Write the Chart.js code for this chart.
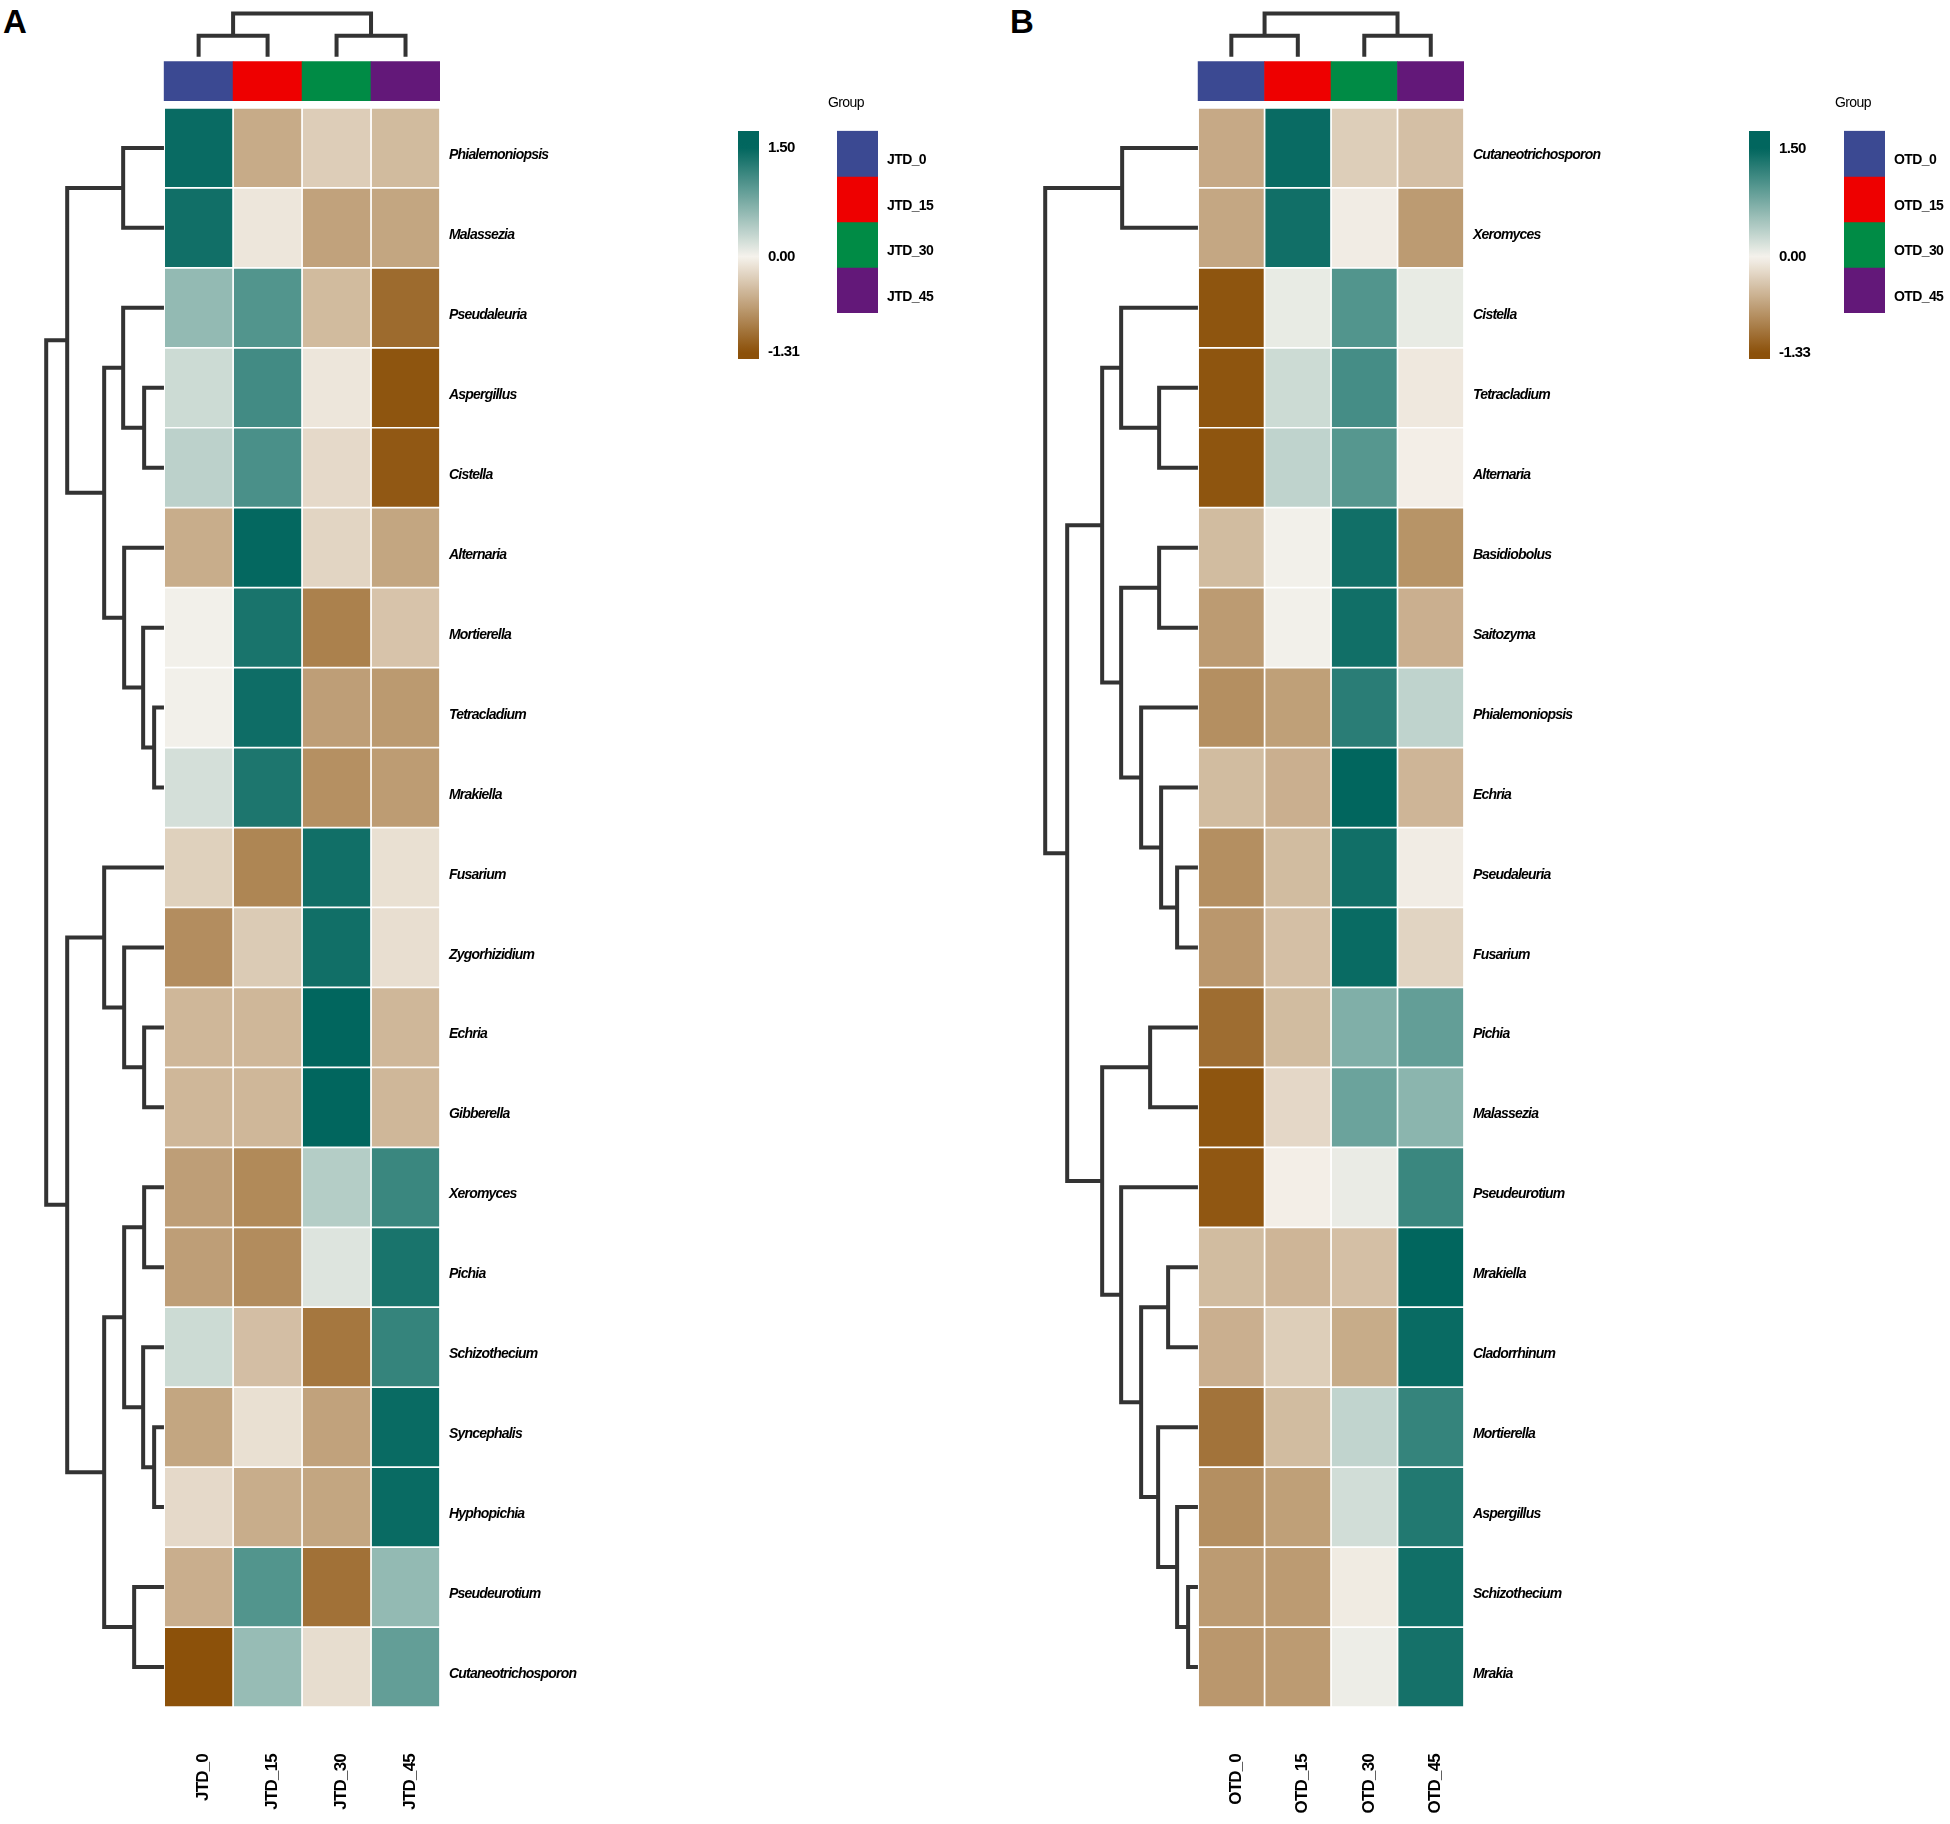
<!DOCTYPE html>
<html>
<head>
<meta charset="utf-8">
<title>Fungal genera heatmaps</title>
<script src="https://cdn.jsdelivr.net/npm/chart.js@4.4.1/dist/chart.umd.min.js"></script>
<style>
  body { margin: 0; background: #fff; }
  #page { position: relative; width: 1950px; height: 1824px; overflow: hidden; background: #fff; }
  #page canvas { position: absolute; }
  .tag { position: absolute; font: bold 33px 'Liberation Sans', Arial, sans-serif; line-height: 1; color: #000; }
</style>
</head>
<body>
<div id="page">
  <div class="tag" style="left:3px;top:5px">A</div>
  <div class="tag" style="left:1010px;top:5px">B</div>
  <canvas id="heatA" width="640" height="1824" style="left:0;top:0"></canvas>
  <canvas id="scaleA" width="110" height="260" style="left:738px;top:131px"></canvas>
  <canvas id="groupA" width="129" height="223" style="left:828px;top:90px"></canvas>
  <canvas id="heatB" width="700" height="1824" style="left:1000px;top:0"></canvas>
  <canvas id="scaleB" width="110" height="260" style="left:1749px;top:131px"></canvas>
  <canvas id="groupB" width="115" height="223" style="left:1835px;top:90px"></canvas>
</div>
<script>
// ---------------- DATA ----------------

const groupsA = ['JTD_0', 'JTD_15', 'JTD_30', 'JTD_45'];
const groupsB = ['OTD_0', 'OTD_15', 'OTD_30', 'OTD_45'];
const groupColors = ['#3B4992', '#EE0000', '#008B45', '#631879'];

const generaA = ['Phialemoniopsis', 'Malassezia', 'Pseudaleuria', 'Aspergillus', 'Cistella',
  'Alternaria', 'Mortierella', 'Tetracladium', 'Mrakiella', 'Fusarium', 'Zygorhizidium',
  'Echria', 'Gibberella', 'Xeromyces', 'Pichia', 'Schizothecium', 'Syncephalis',
  'Hyphopichia', 'Pseudeurotium', 'Cutaneotrichosporon'];

// row z-scores, columns JTD_0 .. JTD_45
const zA = [
  [1.45, -0.58, -0.30, -0.45],
  [1.40, -0.10, -0.65, -0.62],
  [0.60, 1.00, -0.45, -1.10],
  [0.25, 1.10, -0.10, -1.28],
  [0.35, 1.05, -0.20, -1.25],
  [-0.56, 1.48, -0.24, -0.62],
  [0.02, 1.35, -0.92, -0.38],
  [0.02, 1.42, -0.68, -0.72],
  [0.20, 1.33, -0.80, -0.70],
  [-0.27, -0.88, 1.40, -0.15],
  [-0.82, -0.32, 1.40, -0.16],
  [-0.48, -0.48, 1.50, -0.48],
  [-0.48, -0.48, 1.50, -0.48],
  [-0.68, -0.85, 0.40, 1.15],
  [-0.68, -0.83, 0.15, 1.35],
  [0.25, -0.42, -1.00, 1.18],
  [-0.62, -0.15, -0.65, 1.45],
  [-0.20, -0.56, -0.62, 1.45],
  [-0.55, 1.00, -1.05, 0.60],
  [-1.31, 0.58, -0.17, 0.90]
];

const generaB = ['Cutaneotrichosporon', 'Xeromyces', 'Cistella', 'Tetracladium', 'Alternaria',
  'Basidiobolus', 'Saitozyma', 'Phialemoniopsis', 'Echria', 'Pseudaleuria', 'Fusarium',
  'Pichia', 'Malassezia', 'Pseudeurotium', 'Mrakiella', 'Cladorrhinum', 'Mortierella',
  'Aspergillus', 'Schizothecium', 'Mrakia'];

// row z-scores, columns OTD_0 .. OTD_45
const zB = [
  [-0.60, 1.45, -0.30, -0.42],
  [-0.62, 1.40, -0.05, -0.72],
  [-1.30, 0.08, 1.00, 0.08],
  [-1.30, 0.25, 1.08, -0.08],
  [-1.30, 0.33, 0.98, -0.03],
  [-0.45, 0.02, 1.40, -0.78],
  [-0.72, 0.02, 1.40, -0.55],
  [-0.82, -0.68, 1.25, 0.33],
  [-0.45, -0.55, 1.50, -0.50],
  [-0.82, -0.45, 1.40, -0.05],
  [-0.75, -0.42, 1.45, -0.25],
  [-1.10, -0.45, 0.72, 0.90],
  [-1.30, -0.22, 0.85, 0.65],
  [-1.28, -0.03, 0.07, 1.15],
  [-0.45, -0.50, -0.42, 1.50],
  [-0.55, -0.30, -0.58, 1.45],
  [-1.05, -0.45, 0.32, 1.18],
  [-0.82, -0.68, 0.22, 1.30],
  [-0.72, -0.72, -0.06, 1.40],
  [-0.75, -0.72, 0.05, 1.38]
];

// dendrograms: [left, right, height], a number is a leaf (row / column index)
const rowTreeA = [
  [[0, 1, 41], [[2, [3, 4, 20], 41], [5, [6, [7, 8, 10], 21], 40], 60], 97],
  [[9, [10, [11, 12, 20], 40], 60], [[[13, 14, 20], [15, [16, 17, 10], 21], 40], [18, 19, 30], 60], 97],
  118
];
const rowTreeB = [
  [0, 1, 76],
  [
    [[2, [3, 4, 39], 77], [[5, 6, 39], [7, [8, [9, 10, 21], 37], 57], 77], 96],
    [[11, 12, 48], [13, [[14, 15, 30], [16, [17, [18, 19, 10], 21], 40], 57], 77], 96],
    131
  ],
  153
];
const colTreeA = [[0, 1, 21], [2, 3, 21], 43];
const colTreeB = [[0, 1, 21], [2, 3, 21], 43];

const legendTicksA = [1.5, 0, -1.31];
const legendTicksB = [1.5, 0, -1.33];

// ---------------- HELPERS ----------------

const SANS = "'Liberation Sans', Arial, sans-serif";
const TREE_COLOR = '#333333';

const LOW = [140, 81, 10], MID = [245, 242, 236], HIGH = [1, 102, 94];

function mix(a, b, t) {
  const c = a.map((v, i) => Math.round(v + (b[i] - v) * t));
  return `rgb(${c[0]},${c[1]},${c[2]})`;
}

function zColor(v, lo, hi) {
  if (v >= 0) return mix(MID, HIGH, Math.min(v / hi, 1));
  return mix(MID, LOW, Math.min(v / lo, 1));
}

// walks a nested tree and returns elbow polylines split by null points
function treePoints(tree, toPoint) {
  const pts = [];
  function walk(node) {
    if (typeof node === 'number') return {pos: node + 0.5, h: 0};
    const a = walk(node[0]);
    const b = walk(node[1]);
    const h = node[2];
    pts.push(toPoint(a.pos, a.h), toPoint(a.pos, h), toPoint(b.pos, h), toPoint(b.pos, b.h), {x: null, y: null});
    return {pos: (a.pos + b.pos) / 2, h: h};
  }
  walk(tree);
  return pts;
}

function fixWidth(w) {
  return s => { s.width = w; s.paddingTop = s.paddingBottom = s.paddingLeft = s.paddingRight = 0; };
}
function fixHeight(h) {
  return s => { s.height = h; s.paddingTop = s.paddingBottom = s.paddingLeft = s.paddingRight = 0; };
}

// the original labels are set in a narrow face; tighten the tracking instead
const tightText = {
  id: 'tightText',
  defaults: {spacing: '0px'},
  beforeLayout(chart, args, opts) { chart.ctx.letterSpacing = opts.spacing; },
  beforeDraw(chart, args, opts) { chart.ctx.letterSpacing = opts.spacing; }
};
Chart.register(tightText);

function baseOptions(spacing) {
  return {
    responsive: false,
    animation: false,
    events: [],
    layout: {padding: 0, autoPadding: false},
    plugins: {legend: {display: false}, tooltip: {enabled: false}, title: {display: false},
      tightText: {spacing: spacing}}
  };
}

// ---------------- CHARTS ----------------

function heatmap(id, p) {
  const datasets = [];

  p.rows.forEach((name, r) => {
    datasets.push({
      type: 'bar',
      label: name,
      data: p.z[r].map((v, c) => ({x: c + 0.5, y: [r, r + 1]})),
      backgroundColor: p.z[r].map(v => zColor(v, p.lo, p.hi)),
      borderColor: '#ffffff',
      borderWidth: 1.2,
      borderSkipped: false,
      grouped: false,
      barPercentage: 1,
      categoryPercentage: 1
    });
  });

  // group annotation strip
  datasets.push({
    type: 'bar',
    label: 'Group',
    data: p.cols.map((g, c) => ({x: c + 0.5, y: [-0.58, -0.09]})),
    backgroundColor: groupColors,
    borderWidth: 0,
    grouped: false,
    barPercentage: 1,
    categoryPercentage: 1
  });

  const kx = p.rowTreeWidth / p.rowTree[2];
  const ky = 0.54 / p.colTree[2];
  const lineStyle = {type: 'line', borderColor: TREE_COLOR, borderWidth: 4, pointRadius: 0,
    spanGaps: false, borderJoinStyle: 'miter', borderCapStyle: 'butt'};

  datasets.push(Object.assign({label: 'rows', data: treePoints(p.rowTree, (pos, h) => ({x: -h * kx, y: pos}))}, lineStyle));
  datasets.push(Object.assign({label: 'cols', data: treePoints(p.colTree, (pos, h) => ({x: pos, y: -0.64 - h * ky}))}, lineStyle));

  const opts = baseOptions('-0.8px');
  opts.scales = {
    x: {
      type: 'linear', min: p.xMin, max: 4, offset: false,
      grid: {display: false, drawTicks: false}, border: {display: false},
      afterBuildTicks: s => { s.ticks = p.cols.map((g, i) => ({value: i + 0.57})); },
      afterFit: fixHeight(117),
      ticks: {
        autoSkip: false, minRotation: 90, maxRotation: 90, padding: 47,
        color: '#000', font: {family: SANS, size: 17, weight: 'bold'},
        callback: (v, i) => p.cols[i]
      }
    },
    y: {
      type: 'linear', min: -1.35, max: 20, reverse: true, position: 'right',
      grid: {display: false, drawTicks: false}, border: {display: false},
      afterBuildTicks: s => { s.ticks = p.rows.map((g, i) => ({value: i + 0.59})); },
      afterFit: fixWidth(p.labelWidth),
      ticks: {
        autoSkip: false, padding: 9,
        color: '#000', font: {family: SANS, size: 14, weight: 'bold', style: 'italic'},
        callback: (v, i) => p.rows[i]
      }
    }
  };

  new Chart(document.getElementById(id), {type: 'bar', data: {datasets: datasets}, options: opts});
}

function colorScale(id, lo, hi, ticks, yMin, yMax) {
  const opts = baseOptions('-0.6px');
  opts.layout = {padding: {bottom: 32}, autoPadding: false};
  opts.scales = {
    x: {display: false},
    y: {
      min: yMin, max: yMax, position: 'right',
      grid: {display: false, drawTicks: false}, border: {display: false},
      afterBuildTicks: s => { s.ticks = ticks.map(v => ({value: v})); },
      afterFit: fixWidth(89),
      ticks: {
        padding: 9, color: '#000', font: {family: SANS, size: 15, weight: 'bold'},
        callback: v => v.toFixed(2)
      }
    }
  };

  new Chart(document.getElementById(id), {
    type: 'bar',
    data: {
      labels: ['z'],
      datasets: [{
        data: [[yMin, yMax]],
        backgroundColor: ctx => {
          const chart = ctx.chart;
          const area = chart.chartArea;
          if (!area) return 'rgb(245,242,236)';
          const g = chart.ctx.createLinearGradient(0, area.top, 0, area.bottom);
          for (let i = 0; i <= 40; i++) {
            const v = yMax - (yMax - yMin) * i / 40;
            g.addColorStop(i / 40, zColor(v, lo, hi));
          }
          return g;
        },
        borderWidth: 0,
        barPercentage: 1,
        categoryPercentage: 1
      }]
    },
    options: opts
  });
}

function groupLegend(id, groups, width) {
  const opts = baseOptions('-0.6px');
  opts.plugins.title = {
    display: true, text: 'Group', align: 'start', color: '#000',
    font: {family: SANS, size: 14, weight: 'normal'}, padding: {top: 5, bottom: 19}
  };
  opts.scales = {
    x: {display: false},
    y: {
      min: 0, max: 4, reverse: true, position: 'right',
      grid: {display: false, drawTicks: false}, border: {display: false},
      afterBuildTicks: s => { s.ticks = groups.map((g, i) => ({value: i + 0.65})); },
      afterFit: fixWidth(width - 50),
      ticks: {
        autoSkip: false, padding: 9, color: '#000',
        font: {family: SANS, size: 14, weight: 'bold'},
        callback: (v, i) => groups[i]
      }
    },
    // empty left gutter so the title sits a little left of the boxes
    gutter: {
      type: 'linear', position: 'left',
      grid: {display: false, drawTicks: false}, border: {display: false},
      ticks: {display: false}, afterFit: fixWidth(9)
    }
  };

  new Chart(document.getElementById(id), {
    type: 'bar',
    data: {
      labels: ['g'],
      datasets: groups.map((g, i) => ({
        label: g,
        data: [[i, i + 1]],
        yAxisID: 'y',
        backgroundColor: groupColors[i],
        borderWidth: 0,
        grouped: false,
        barPercentage: 1,
        categoryPercentage: 1
      }))
    },
    options: opts
  });
}

heatmap('heatA', {rows: generaA, cols: groupsA, z: zA, lo: -1.31, hi: 1.5,
  rowTree: rowTreeA, colTree: colTreeA, rowTreeWidth: 1.71, xMin: -2.38, labelWidth: 200});
heatmap('heatB', {rows: generaB, cols: groupsB, z: zB, lo: -1.33, hi: 1.5,
  rowTree: rowTreeB, colTree: colTreeB, rowTreeWidth: 2.30, xMin: -2.98, labelWidth: 236});

colorScale('scaleA', -1.31, 1.5, legendTicksA, -1.41, 1.73);
colorScale('scaleB', -1.33, 1.5, legendTicksB, -1.42, 1.75);

groupLegend('groupA', groupsA, 129);
groupLegend('groupB', groupsB, 115);
</script>
</body>
</html>
